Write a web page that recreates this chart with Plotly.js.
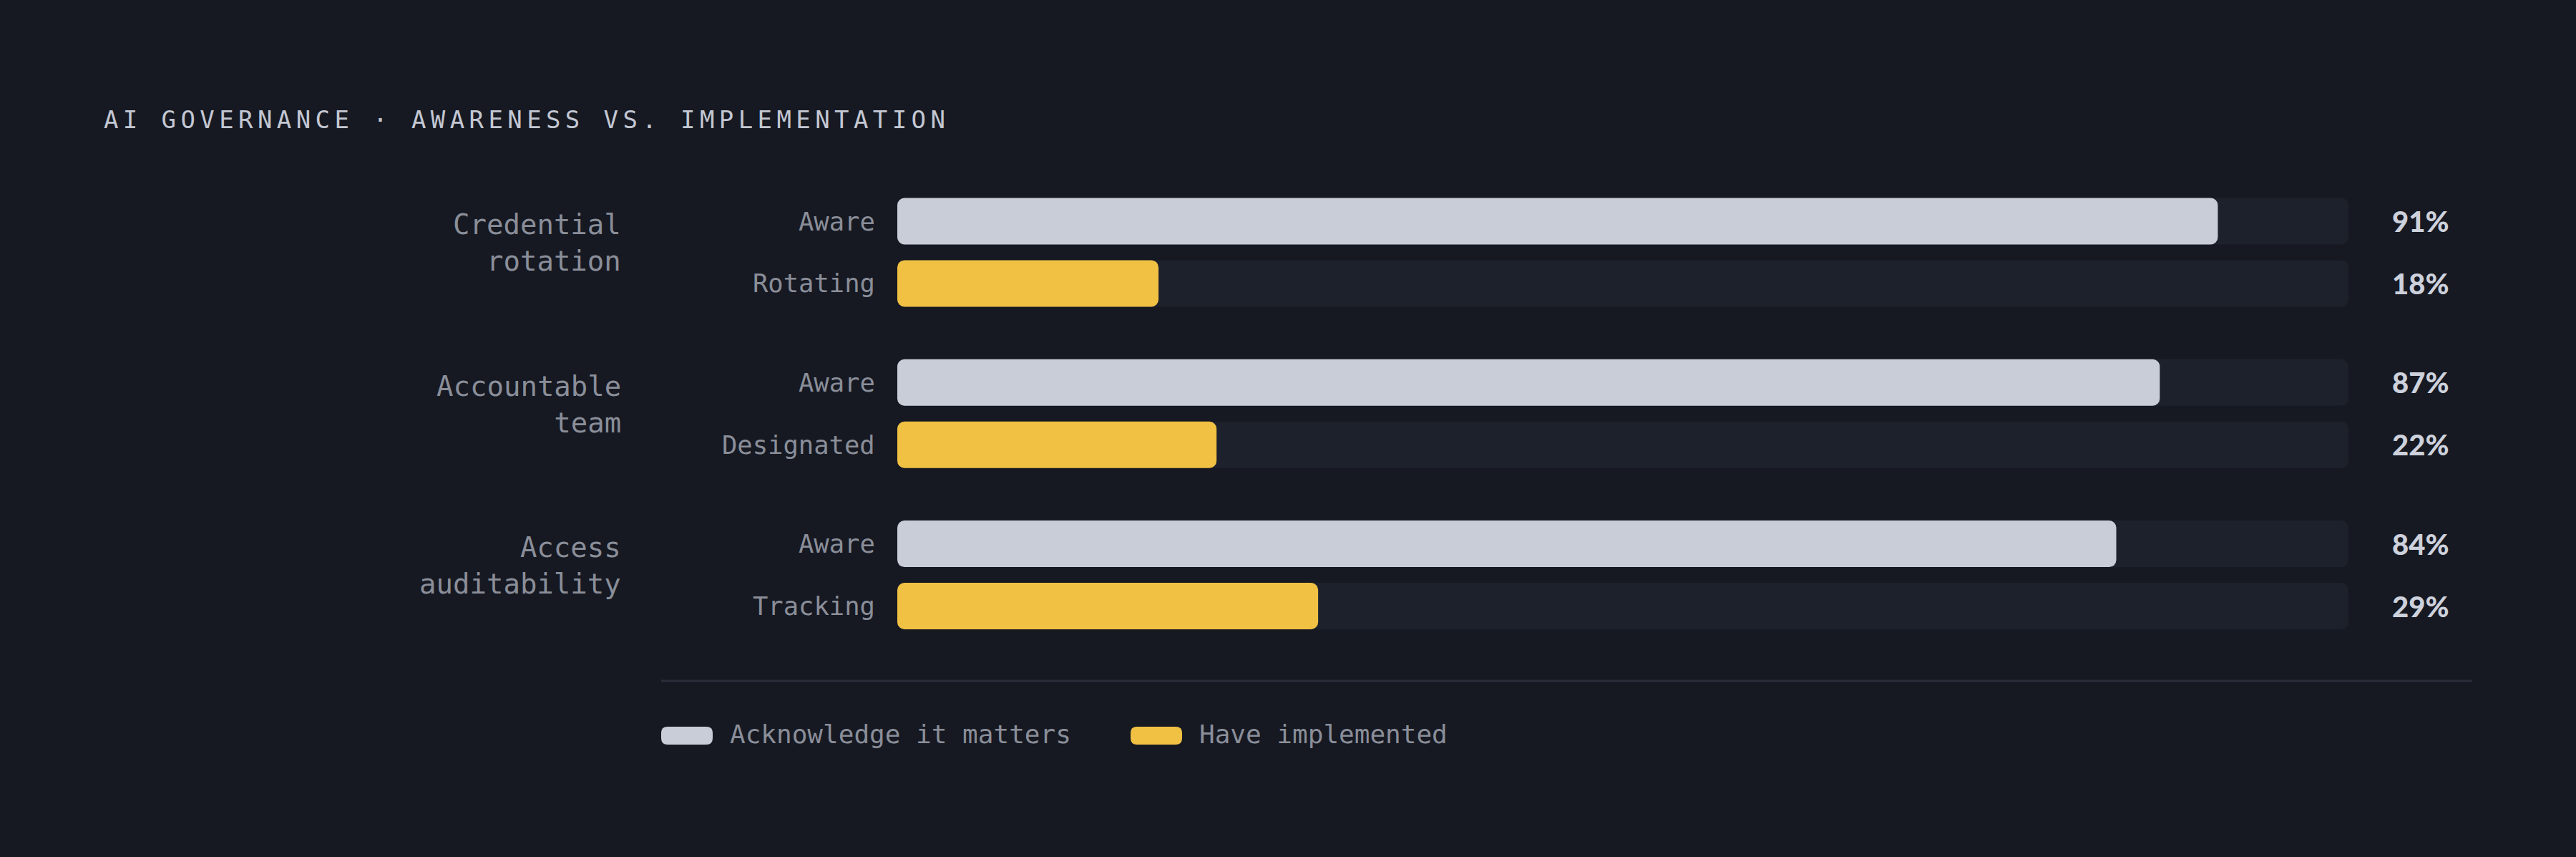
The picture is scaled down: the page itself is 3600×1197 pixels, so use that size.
<!DOCTYPE html>
<html>
<head>
<meta charset="utf-8">
<script src="https://cdn.plot.ly/plotly-3.0.1.min.js"></script>
<style>
    html, body { margin: 0; padding: 0; background: #161922; }
    #chart { width: 3600px; height: 1197px; }
    .gtitle { letter-spacing: 6.4px; }
</style>
</head>
<body>
<div id="chart"></div>
<script>
// Data
const groupLabels = ['Credential<br>rotation', 'Accountable<br>team', 'Access<br>auditability'];
const awareLabels = ['Aware', 'Aware', 'Aware'];
const implLabels = ['Rotating', 'Designated', 'Tracking'];
const awareValues = [91, 87, 84];
const implValues = [18, 22, 29];
const axisMax = 100;
const legendLabels = ['Acknowledge it matters', 'Have implemented'];

// Colours / fonts
const BG = '#161922';
const TRACK = '#1d212c';
const AWARE = '#c9cdd8';
const IMPL = '#f0c143';
const MUTED = '#8a8e99';
const MONO = '"DejaVu Sans Mono", "Liberation Mono", monospace';

// Plot area in pixels
const W = 3600, H = 1197;
const PLOT = { l: 1254, r: 3282, t: 260, b: 900 };
const FIRST_ROW_PX = 309;
const ROW_PX = 86.92;
const GROUP_STEP = 2.592; // in row units
const BAR_W = 65 / ROW_PX;
const EPS = 1e-4; // a non-zero base makes plotly round both ends of the bar

const pxX = (px) => (px - PLOT.l) / (PLOT.r - PLOT.l);
const pxY = (py) => (PLOT.b - py) / (PLOT.b - PLOT.t);

// y position of every row
const awareY = groupLabels.map((_, g) => g * GROUP_STEP);
const implY = groupLabels.map((_, g) => g * GROUP_STEP + 1);
const allY = awareY.concat(implY);

function roundedBar(xs, ys, color) {
    return {
        type: 'bar',
        orientation: 'h',
        y: ys,
        base: xs.map(() => EPS),
        x: xs.map(v => v - EPS),
        width: BAR_W,
        marker: { color: color, cornerradius: 10, line: { width: 0 } },
        hoverinfo: 'skip',
        showlegend: false
    };
}

const traces = [
    roundedBar(allY.map(() => axisMax), allY, TRACK),
    roundedBar(awareValues, awareY, AWARE),
    roundedBar(implValues, implY, IMPL)
];

const annotations = [];

groupLabels.forEach((label, g) => {
    annotations.push({
        text: label, xref: 'paper', yref: 'y',
        x: pxX(870), y: g * GROUP_STEP + 0.35,
        xanchor: 'right', yanchor: 'middle', align: 'right',
        showarrow: false,
        font: { family: MONO, size: 39, color: MUTED }
    });
});

function rowLabels(labels, values, ys) {
    labels.forEach((label, i) => {
        annotations.push({
            text: label, xref: 'paper', yref: 'y',
            x: pxX(1225), y: ys[i],
            xanchor: 'right', yanchor: 'middle',
            showarrow: false,
            font: { family: MONO, size: 35.5, color: MUTED }
        });
        annotations.push({
            text: values[i] + '%', xref: 'paper', yref: 'y',
            x: pxX(3341), y: ys[i],
            xanchor: 'left', yanchor: 'middle',
            showarrow: false,
            font: { family: 'Lato, sans-serif', size: 40, weight: 900, color: '#cdd1dc' }
        });
    });
}
rowLabels(awareLabels, awareValues, awareY);
rowLabels(implLabels, implValues, implY);

// legend (custom swatches)
const legendY = pxY(1025.5);
const swatchX = [pxX(924), pxX(1580)];
const legendTextX = [pxX(1018), pxX(1674)];
const swatchColors = [AWARE, IMPL];
const pill = 'M 9,-12.5 L 63,-12.5 Q 72,-12.5 72,-3.5 L 72,3.5 Q 72,12.5 63,12.5 ' +
             'L 9,12.5 Q 0,12.5 0,3.5 L 0,-3.5 Q 0,-12.5 9,-12.5 Z';

const shapes = [{
    type: 'line', xref: 'paper', yref: 'paper',
    x0: pxX(924), x1: pxX(3455), y0: pxY(951), y1: pxY(951),
    line: { color: '#2a2e3a', width: 3 }
}];

legendLabels.forEach((label, i) => {
    shapes.push({
        type: 'path', xref: 'paper', yref: 'paper',
        xsizemode: 'pixel', ysizemode: 'pixel',
        xanchor: swatchX[i], yanchor: pxY(1027.5),
        path: pill,
        fillcolor: swatchColors[i],
        line: { width: 0 }
    });
    annotations.push({
        text: label, xref: 'paper', yref: 'paper',
        x: legendTextX[i], y: legendY,
        xanchor: 'left', yanchor: 'middle',
        showarrow: false,
        font: { family: MONO, size: 36, color: MUTED }
    });
});

const layout = {
    width: W,
    height: H,
    paper_bgcolor: BG,
    plot_bgcolor: BG,
    margin: { l: PLOT.l, r: W - PLOT.r, t: PLOT.t, b: H - PLOT.b, pad: 0 },
    barmode: 'overlay',
    showlegend: false,
    title: {
        text: 'AI GOVERNANCE · AWARENESS VS. IMPLEMENTATION',
        xref: 'container', yref: 'container',
        x: 145 / W, xanchor: 'left',
        y: 1 - 167.5 / H, yanchor: 'middle',
        font: { family: MONO, size: 34, color: '#c3c7d2' }
    },
    xaxis: { range: [0, axisMax], visible: false, fixedrange: true },
    yaxis: {
        range: [(PLOT.b - FIRST_ROW_PX) / ROW_PX, (PLOT.t - FIRST_ROW_PX) / ROW_PX],
        visible: false, fixedrange: true
    },
    annotations: annotations,
    shapes: shapes
};

Plotly.newPlot('chart', traces, layout, { staticPlot: true, displayModeBar: false });
</script>
</body>
</html>
